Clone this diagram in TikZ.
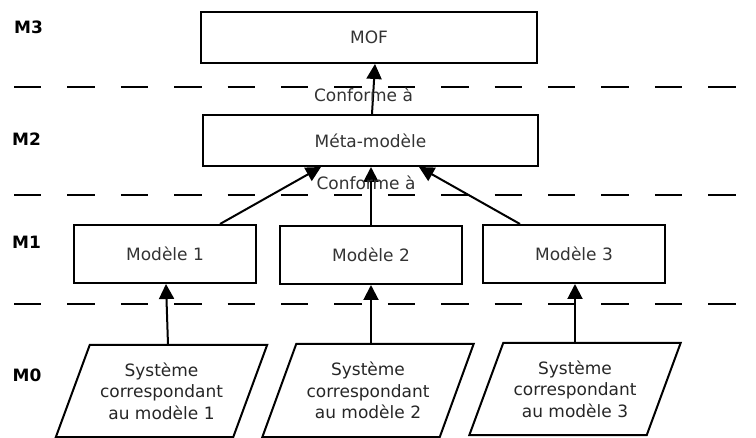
\documentclass[tikz,border=0pt]{standalone}
\usepackage{fontspec}
\setmainfont{DejaVu Sans}
\usetikzlibrary{arrows.meta,calc}

\begin{document}
\begin{tikzpicture}[x=1pt,y=-1pt,
  every node/.style={font=\fontsize{17}{21.5}\selectfont, text=black!85},
  box/.style={draw=black, line width=2pt, text=black!80, align=center, inner sep=0pt},
  sysbox/.style={draw=none, align=center, inner sep=0pt, minimum width=177pt, minimum height=92pt},
  layer/.style={font=\fontsize{17}{20}\selectfont\bfseries, text=black},
  level/.style={line width=2.5pt, dash pattern=on 27.4pt off 26pt},
  arr/.style={line width=2pt, -{Triangle[length=15pt,width=15pt]}},
  lbl/.style={text=black!80, inner sep=0pt}
]
\useasboundingbox (0,0) rectangle (756,438);

% separators between the modelling levels
\draw[level] (14,87) -- (736,87);
\draw[level] (14,195) -- (736,195);
\draw[level] (14,304) -- (736,304);

% level names
\node[layer] (l3) at (28.5,27) {M3};
\node[layer] (l2) at (26.5,139) {M2};
\node[layer] (l1) at (26.5,242) {M1};
\node[layer] (l0) at (27,375) {M0};

% M3 and M2
\node[box, minimum width=336pt, minimum height=51pt] (mof) at (369,37.5) {MOF};
\node[box, minimum width=335pt, minimum height=51pt] (meta) at (370.5,140.5) {Méta-modèle};

% M1 models
\node[box, minimum width=182pt, minimum height=58pt] (m1) at (165,254) {Modèle 1};
\node[box, minimum width=182pt, minimum height=58pt] (m2) at (371,255) {Modèle 2};
\node[box, minimum width=182pt, minimum height=58pt] (m3) at (574,254) {Modèle 3};

% M0 systems (parallelograms)
\node[sysbox, minimum height=92pt] (s1) at (161.5,391) {Système\\correspondant\\au modèle 1};
\node[sysbox, minimum height=93pt] (s2) at (368,390.5) {Système\\correspondant\\au modèle 2};
\node[sysbox, minimum height=92pt] (s3) at (575,389) {Système\\correspondant\\au modèle 3};
\foreach \s in {s1,s2,s3}{
  \draw[line width=2pt, line join=miter]
    ($(\s.north west)+(17,0)$) -- ($(\s.north east)+(17,0)$) --
    ($(\s.south east)+(-17,0)$) -- ($(\s.south west)+(-17,0)$) -- cycle;
}

% conformance arrows
\draw[arr] ([xshift=1.5pt]meta.north) -- ([xshift=6pt]mof.south);
\draw[arr] ([xshift=55pt]m1.north) -- ([xshift=-49.5pt]meta.south);
\draw[arr] ([xshift=0pt]m2.north) -- ([xshift=0.5pt]meta.south);
\draw[arr] ([xshift=-54pt]m3.north) -- ([xshift=48.5pt]meta.south);

\draw[arr] ([xshift=6.5pt]s1.north) -- ([xshift=1pt]m1.south);
\draw[arr] ([xshift=3pt]s2.north) -- ([xshift=0pt]m2.south);
\draw[arr] ([xshift=0pt]s3.north) -- ([xshift=1pt]m3.south);

% labels
\node[lbl] (c1) at (363.5,95) {Conforme à};
\node[lbl] (c2) at (366,183) {Conforme à};
\end{tikzpicture}
\end{document}
